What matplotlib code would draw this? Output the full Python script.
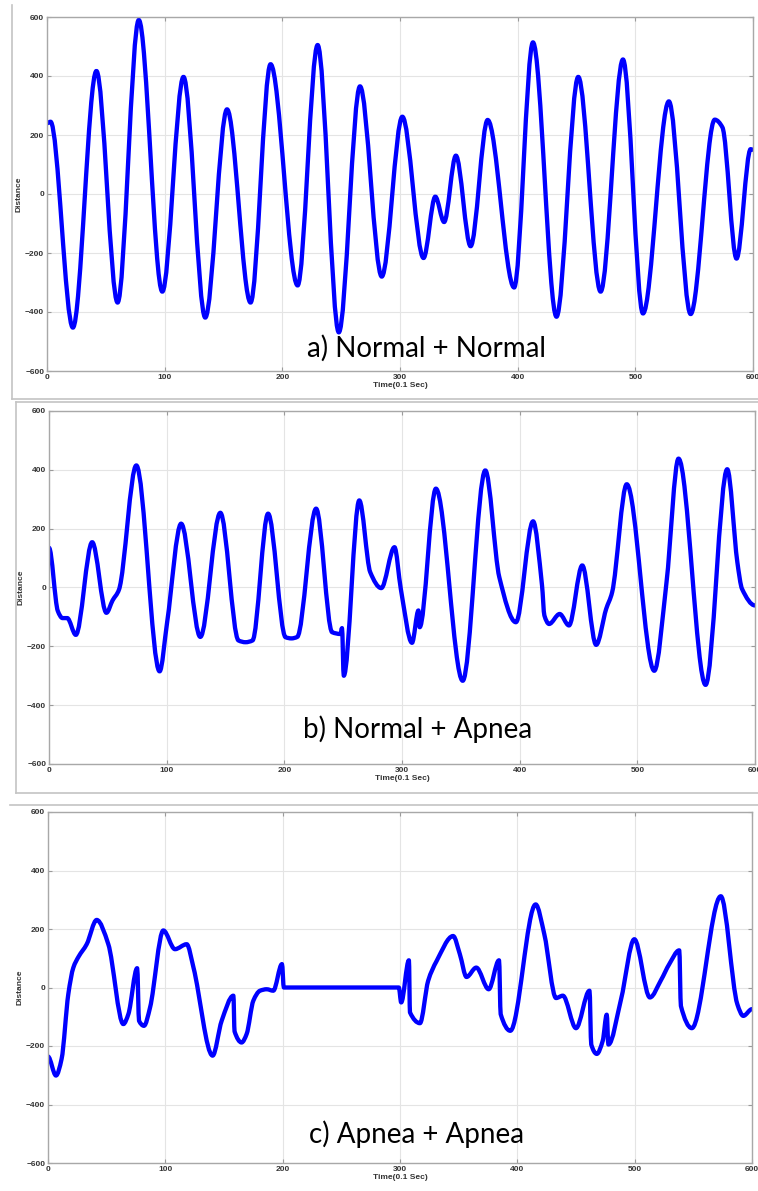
import numpy as np
import matplotlib.pyplot as plt
from matplotlib.path import Path
from matplotlib.patches import PathPatch
from matplotlib.lines import Line2D

# a) Normal + Normal  (time in 0.1 s, distance)
a_t = [0, 3, 22, 42, 60, 78, 98, 116, 134.5, 153, 173, 190, 213, 230, 248, 266,
       284.5, 302, 320, 330, 337.5, 347.5, 360, 374.5, 397, 413, 433, 451.5,
       470.5, 489.5, 506.5, 528.5, 547, 567.5, 574, 586, 598, 600]
a_v = [240, 245, -453, 417, -368, 590, -331, 397, -419, 287, -368, 440, -310,
       505, -469, 365, -280, 262, -217, -9, -95, 130, -177, 251, -317, 514,
       -416, 397, -331, 456, -405, 314, -407, 252, 226, -219, 152, 150]

# b) Normal + Apnea
b_t = [0, 7.5, 11.5, 15.5, 22.8, 36.7, 48.8, 54, 59.5, 74.2, 94, 100.4, 112.3,
       128.6, 145.6, 161, 167, 173, 186.2, 201, 206, 211, 227, 240.6, 247.7,
       249, 250.5, 263.7, 273, 282.4, 293.6, 299, 308.5, 314, 315, 328.8,
       351.6, 370.8, 382.7, 396.8, 411.4, 419, 421, 425, 434, 441.9, 453.2,
       465, 473.5, 478.6, 491, 514.4, 524.8, 535, 558, 576.4, 585, 589, 600]
b_v = [135, -80, -104, -104, -161, 154, -86, -44, -7, 415, -285, -118, 217,
       -168, 254, -180, -186, -180, 251, -169, -173, -168, 268, -152, -158,
       -138, -300, 296, 52, -2, 137, -5, -188, -78, -135, 336, -317, 398, 35,
       -118, 225, 7, -95, -124, -90, -129, 75, -195, -73, -16, 351, -283, 18,
       438, -331, 402, 86, -5, -61]

# c) Apnea + Apnea
c_t = [0, 6.8, 11.6, 17.3, 21.6, 26, 33, 41.5, 51.4, 64.2, 68.5, 76, 77.6,
       81.8, 87, 98.3, 108.2, 118.2, 124, 140.3, 148, 158, 159, 165, 169.3,
       175, 180.7, 186.4, 192, 199.4, 201, 299, 301, 307.6, 308.5, 317, 324,
       331, 345.3, 351, 356.7, 365, 375.6, 384.4, 385.8, 394, 415.6, 423, 433,
       438.8, 450, 461.5, 463, 467.7, 472.8, 476.2, 477.6, 488.4, 499.7, 513,
       522.4, 529.5, 538, 539.4, 548.7, 573.4, 587.5, 592.6, 600]
c_v = [-236, -301, -244, -23, 68, 105, 148, 231, 148, -125, -91, 66, -114,
       -131, -68, 195, 131, 148, 68, -233, -114, -28, -150, -188, -159, -45,
       -11, -6, -11, 80, 0, 0, -51, 93, -85, -122, 23, 89, 176, 114, 36, 68,
       -6, 93, -91, -148, 284, 182, -36, -28, -139, -11, -195, -227, -182,
       -93, -195, -40, 165, -34, 25, 80, 127, -63, -139, 312, -57, -97, -74]

panels = [
    (a_t, a_v, 'a) Normal + Normal', [47, 17, 753, 371], (307, 357)),
    (b_t, b_v, 'b) Normal + Apnea', [49, 411, 755, 764], (303, 738)),
    (c_t, c_v, 'c) Apnea + Apnea', [48, 812, 752, 1163], (309, 1143)),
]

W, H = 758, 1191


def smooth_path(t, v):
    # monotone cubic through the read points, drawn as bezier segments
    t = np.asarray(t, float)
    v = np.asarray(v, float)
    d = np.diff(v) / np.diff(t)
    m = np.zeros_like(v)
    for i in range(1, len(v) - 1):
        if d[i - 1] * d[i] > 0:
            m[i] = 2 / (1 / d[i - 1] + 1 / d[i])
    verts = [(t[0], v[0])]
    codes = [Path.MOVETO]
    for i in range(len(t) - 1):
        h = (t[i + 1] - t[i]) / 3
        verts += [(t[i] + h, v[i] + m[i] * h),
                  (t[i + 1] - h, v[i + 1] - m[i + 1] * h),
                  (t[i + 1], v[i + 1])]
        codes += [Path.CURVE4] * 3
    return Path(verts, codes)


fig = plt.figure(figsize=(W / 100, H / 100), dpi=100)

# outer frames of the three pasted figures
frame = dict(color='#c4c4c4', lw=1.2, transform=fig.transFigure)
fig.add_artist(Line2D([12 / W, 12 / W], [1 - 5 / H, 1 - 399 / H], **frame))
fig.add_artist(Line2D([12 / W, 1], [1 - 399 / H, 1 - 399 / H], **frame))
fig.add_artist(Line2D([16 / W, 1], [1 - 402 / H, 1 - 402 / H], **frame))
fig.add_artist(Line2D([16 / W, 16 / W], [1 - 402 / H, 1 - 793 / H], **frame))
fig.add_artist(Line2D([16 / W, 1], [1 - 793 / H, 1 - 793 / H], **frame))
fig.add_artist(Line2D([10 / W, 1], [1 - 805 / H, 1 - 805 / H], **frame))

for t, v, label, (x0, y0, x1, y1), (tx, ty) in panels:
    ax = fig.add_axes([x0 / W, 1 - y1 / H, (x1 - x0) / W, (y1 - y0) / H])
    ax.add_patch(PathPatch(smooth_path(t, v), fill=False, ec='#0000ff',
                           lw=3.1, capstyle='round', joinstyle='round'))
    ax.set_xlim(0, 600)
    ax.set_ylim(-600, 600)
    ax.xaxis.set_major_locator(plt.MultipleLocator(100))
    ax.yaxis.set_major_locator(plt.MultipleLocator(200))
    ax.grid(color='#e4e4e4', lw=0.8)
    ax.set_axisbelow(True)
    ax.tick_params(direction='in', length=3, width=0.8, color='#9a9a9a',
                   top=True, right=True, labelsize=6, labelcolor='#333333',
                   pad=2)
    for lab in ax.get_xticklabels() + ax.get_yticklabels():
        lab.set_fontweight('bold')
        lab.set_family('Liberation Sans')
    for s in ax.spines.values():
        s.set_color('#a8a8a8')
        s.set_linewidth(1.0)
    ax.set_xlabel('Time(0.1 Sec)', fontsize=6, fontweight='bold',
                  family='Liberation Sans', color='#333333', labelpad=1)
    ax.set_ylabel('Distance', fontsize=6, fontweight='bold',
                  family='Liberation Sans', color='#333333', labelpad=2)
    ax.text((tx - x0) / (x1 - x0), (y1 - ty) / (y1 - y0), label,
            transform=ax.transAxes, fontsize=20, family='Lato',
            ha='left', va='baseline', color='black')

fig.savefig('out.png', dpi=100)
